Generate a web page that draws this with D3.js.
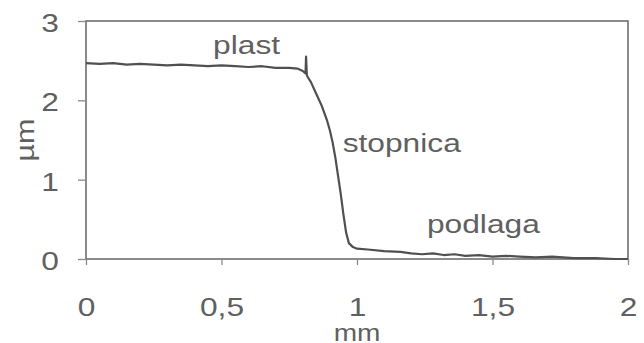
<!DOCTYPE html>
<html>
<head>
<meta charset="utf-8">
<script src="https://cdn.jsdelivr.net/npm/d3@7"></script>
<style>
  body { margin: 0; background: #fff; }
  text { font-family: "Liberation Sans", Arial, sans-serif; fill: #606060; }
</style>
</head>
<body>
<svg id="chart" width="644" height="343"></svg>
<script>
// profile data (mm, µm)
var profX = [0, 0.05, 0.1, 0.15, 0.2, 0.25, 0.3, 0.35, 0.4, 0.45, 0.5, 0.55, 0.6, 0.65, 0.7, 0.75, 0.78, 0.8, 0.81, 0.812, 0.815, 0.817,
  0.83, 0.85, 0.87, 0.89, 0.9, 0.91, 0.92, 0.93, 0.94, 0.95, 0.96, 0.97, 0.985, 1.0, 1.04, 1.1, 1.16, 1.2, 1.24, 1.28, 1.32, 1.36, 1.4, 1.45, 1.5, 1.55, 1.6, 1.66, 1.72, 1.8, 1.88, 1.95, 2.0];
var profY = [2.47, 2.46, 2.47, 2.45, 2.46, 2.45, 2.44, 2.45, 2.44, 2.43, 2.44, 2.43, 2.42, 2.43, 2.41, 2.41, 2.40, 2.37, 2.34, 2.55, 2.32, 2.30,
  2.23, 2.08, 1.93, 1.74, 1.62, 1.47, 1.28, 1.05, 0.82, 0.56, 0.33, 0.2, 0.15, 0.13, 0.12, 0.1, 0.09, 0.07, 0.06, 0.07, 0.05, 0.06, 0.04, 0.05, 0.03, 0.04, 0.03, 0.02, 0.03, 0.01, 0.01, 0.0, 0.0];
var xTicks = [0, 0.5, 1, 1.5, 2];
var xTickLabels = ["0", "0,5", "1", "1,5", "2"];
var yTicks = [0, 1, 2, 3];
var notes = ["plast", "stopnica", "podlaga"];
var noteX = [0.469, 0.947, 1.258];
var noteY = [2.59, 1.35, 0.33];

var svg = d3.select("#chart"),
  plotL = 86, plotR = 628, plotT = 21, plotB = 259,
  stretch = 1.22; // the scanned lettering is wider than plain Arial

var x = d3.scaleLinear().domain([0, 2]).range([plotL, plotR]);
var y = d3.scaleLinear().domain([0, 3]).range([plotB, plotT]);

// frame
svg.append("rect")
  .attr("x", plotL).attr("y", plotT)
  .attr("width", plotR - plotL).attr("height", plotB - plotT)
  .attr("fill", "none").attr("stroke", "#6e6e6e").attr("stroke-width", 1.6);

var xAxis = svg.append("g")
  .attr("transform", "translate(0," + plotB + ")")
  .call(d3.axisBottom(x).tickValues(xTicks).tickSize(6)
    .tickFormat(function (d, i) { return xTickLabels[i]; }));
var yAxis = svg.append("g")
  .attr("transform", "translate(" + plotL + ",0)")
  .call(d3.axisLeft(y).tickValues(yTicks).tickSize(8).tickFormat(d3.format("d")));

[xAxis, yAxis].forEach(function (g) {
  g.select(".domain").remove();
  g.selectAll("line").attr("stroke", "#8a8a8a").attr("stroke-width", 1.3);
  g.selectAll("text").style("font-size", "26px").attr("fill", "#606060")
    .style("font-family", "Liberation Sans, Arial, sans-serif");
});
xAxis.selectAll("text")
  .attr("y", 57).attr("dy", 0)
  .attr("transform", "scale(" + stretch + ",1)");
yAxis.selectAll("text")
  .attr("x", -27 / stretch).attr("dy", "0.4em")
  .attr("transform", "scale(" + stretch + ",1)");

svg.append("text")
  .attr("transform", "translate(" + x(1) + ",341) scale(" + stretch + ",1)")
  .attr("text-anchor", "middle")
  .style("font-size", "23px")
  .text("mm");
svg.append("text")
  .attr("transform", "translate(34,140) rotate(-90) scale(" + stretch + ",1)")
  .attr("text-anchor", "middle")
  .style("font-size", "25px")
  .text("µm");

// profile curve
var line = d3.line()
  .x(function (d, i) { return x(profX[i]); })
  .y(function (d) { return y(d); });
svg.append("path")
  .datum(profY)
  .attr("d", line)
  .attr("fill", "none")
  .attr("stroke", "#505050")
  .attr("stroke-width", 2.2)
  .attr("stroke-linejoin", "round");

svg.selectAll(".note")
  .data(notes)
  .enter()
  .append("text")
  .attr("class", "note")
  .attr("transform", function (d, i) {
    return "translate(" + x(noteX[i]) + "," + y(noteY[i]) + ") scale(" + stretch + ",1)";
  })
  .style("font-size", "26px")
  .text(function (d) { return d; });
</script>
</body>
</html>
